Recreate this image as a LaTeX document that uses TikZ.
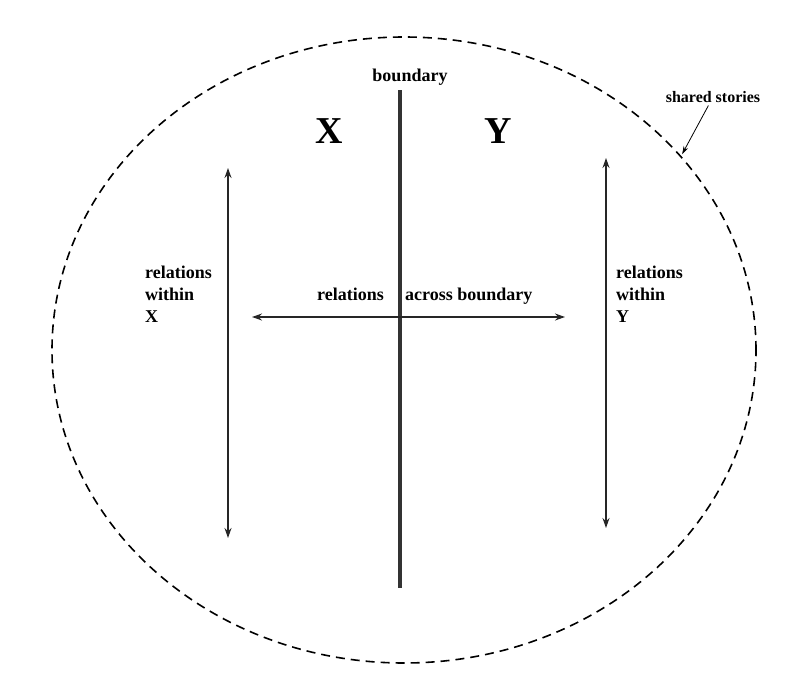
\documentclass[tikz,border=0pt]{standalone}
\usepackage{fontspec}
\setmainfont{Liberation Serif}
\usetikzlibrary{arrows.meta,positioning,shapes.geometric}

\begin{document}
\begin{tikzpicture}[x=1pt, y=-1pt,
  font=\bfseries\fontsize{18}{22}\selectfont,
  txt/.style={inner sep=0pt},
  big/.style={inner sep=0pt, font=\bfseries\fontsize{38}{40}\selectfont},
  rel/.style={{Stealth[length=10pt,width=7pt]}-{Stealth[length=10pt,width=7pt]}, line width=1.3pt, black!85}]
\useasboundingbox (0,0) rectangle (795,688);
% Shared stories (dashed ellipse)
\node[ellipse, draw, line width=1.6pt, dash pattern=on 9pt off 6pt, minimum width=704pt, minimum height=626pt, inner sep=0pt] (stories) at (404,350) {};
% Boundary
\coordinate (btop) at (400,90);
\coordinate (bbot) at (400,588);
\draw[line width=3.5pt, black!80] (btop) -- (bbot);
\node[txt, anchor=base] (boundary) at (410,81) {boundary};
\node[big, anchor=base] (X) at (329,143) {X};
\node[big, anchor=base] (Y) at (498,143) {Y};
% Relations arrows
\coordinate (acrossL) at (252,317);
\coordinate (acrossR) at (565,317);
\coordinate (withinXt) at (228,168);
\coordinate (withinXb) at (228,538);
\coordinate (withinYt) at (606,158);
\coordinate (withinYb) at (606,528);
\draw[rel] (acrossL) -- (acrossR);
\draw[rel] (withinXt) -- (withinXb);
\draw[rel] (withinYt) -- (withinYb);
% Labels
\node[txt, anchor=base east] (relations) at (384,300) {relations};
\node[txt, anchor=base west] (across) at (405,300) {across boundary};
\node[txt, anchor=west, align=left] (relX) at (145,294) {relations\\within\\X};
\node[txt, anchor=west, align=left] (relY) at (616,294) {relations\\within\\Y};
\node[txt, font=\bfseries\fontsize{16}{19}\selectfont] (shared) at (713,97) {shared stories};
\draw[-{Stealth[length=8pt,width=5pt]}, line width=0.8pt, shorten <=3pt, shorten >=2pt] (shared) -- (stories.35);
\end{tikzpicture}
\end{document}
